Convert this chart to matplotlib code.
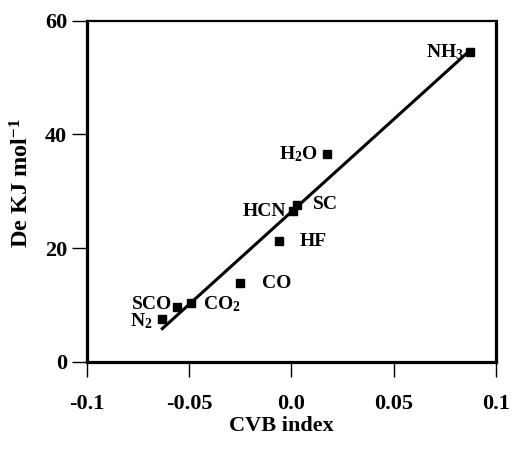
import numpy as np
import matplotlib
matplotlib.use("Agg")
from matplotlib import pyplot as plt

plt.rcParams['font.family'] = 'Liberation Serif'
plt.rcParams['font.weight'] = 'bold'
plt.rcParams['mathtext.fontset'] = 'custom'
plt.rcParams['mathtext.rm'] = 'Liberation Serif:bold'
plt.rcParams['mathtext.bf'] = 'Liberation Serif:bold'
plt.rcParams['mathtext.default'] = 'bf'

# molecules, CVB index vs De
names = ['NH$_3$', 'H$_2$O', 'SC', 'HCN', 'HF', 'CO', 'CO$_2$', 'SCO', 'N$_2$']
cvb = [0.087, 0.0176, 0.003, 0.0007, -0.006, -0.025, -0.049, -0.0557, -0.063]
de = [54.5, 36.5, 27.6, 26.6, 21.2, 13.8, 10.3, 9.7, 7.6]
# label offsets (points) and alignment
offs = [(-4, 0), (-7, 0), (11, 0), (-5, -1), (15, 0), (16, 0), (9, -1), (-4, 1.5), (-7, -2)]
aligns = ['right', 'right', 'left', 'right', 'left', 'left', 'left', 'right', 'right']

xticks = [-0.1, -0.05, 0.0, 0.05, 0.1]
xtick_labels = ['-0.1', '-0.05', '0.0', '0.05', '0.1']
yticks = [0, 20, 40, 60]

fig = plt.figure(figsize=(5.12, 4.5), dpi=100)
ax = fig.add_axes([0.169, 0.196, 0.8, 0.758])

# regression line
k, b = np.polyfit(cvb, de, 1)
xl = np.array([min(cvb), max(cvb)])
ax.plot(xl, k * xl + b, color='black', lw=2.2)

ax.plot(cvb, de, 's', color='black', markersize=6)

for n, x, y, o, a in zip(names, cvb, de, offs, aligns):
    ax.annotate(n, (x, y), xytext=o, textcoords='offset points',
                ha=a, va='center', fontsize=14, fontweight='bold')

ax.set_xlim(-0.1, 0.1)
ax.set_ylim(0, 60)
ax.set_xticks(xticks)
ax.set_xticklabels(xtick_labels)
ax.set_yticks(yticks)
ax.tick_params(direction='out', length=11, width=1, labelsize=16)
ax.tick_params(axis='x', pad=12)
ax.tick_params(axis='y', pad=3)
for s in ax.spines.values():
    s.set_linewidth(2.3)
ax.spines['top'].set_linewidth(1.6)

ax.set_xlabel('CVB index', fontsize=16, fontweight='bold', va='center')
ax.xaxis.set_label_coords(0.475, -0.187)
ax.set_ylabel('De KJ mol$^{-1}$', fontsize=17.5, fontweight='bold', va='center')
ax.yaxis.set_label_coords(-0.158, 0.525)

fig.savefig('out.png', dpi=100)
